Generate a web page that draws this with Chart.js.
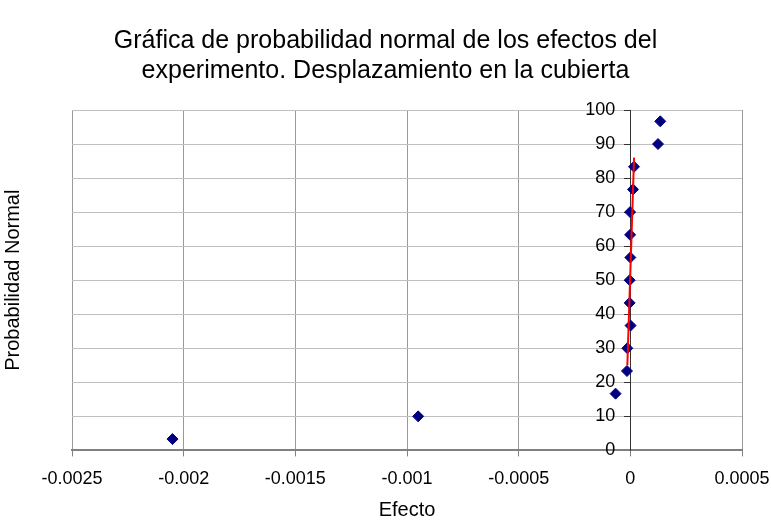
<!DOCTYPE html>
<html lang="es">
<head>
	<meta charset="UTF-8">
	<title>Probabilidad normal</title>
	<script src="https://cdn.jsdelivr.net/npm/chart.js@4/dist/chart.umd.min.js"></script>
	<style>
		body { margin: 0; background: #fff; }
	</style>
</head>
<body>

	<canvas id="normalChart" width="771" height="520"></canvas>

	<script>
	// efectos estimados (eje x) y probabilidad normal acumulada (eje y)
	var efectos = [-0.00205, -0.00095, -0.000066, -0.000015, -0.0000134, 0.000001, -0.000003, -0.000003, 0.0, -0.000001, -0.000001, 0.000012, 0.0000165, 0.000124, 0.000134];
	var probabilidad = [3.33, 10, 16.67, 23.33, 30, 36.67, 43.33, 50, 56.67, 63.33, 70, 76.67, 83.33, 90, 96.67];

	// recta de ajuste (roja)
	var rectaX = [-0.0000134, 0.0000166];
	var rectaY = [25, 86];

	var xTickLabels = ["-0.0025", "-0.002", "-0.0015", "-0.001", "-0.0005", "0", "0.0005"];
	var yTickLabels = ["0", "10", "20", "30", "40", "50", "60", "70", "80", "90", "100"];

	function toPoints(xs, ys){
		var pts = [];
		for (var i = 0; i < xs.length; i++){
			pts.push({x: xs[i], y: ys[i]});
		}
		return pts;
	}

	Chart.defaults.font.family = "'Liberation Sans', Arial, sans-serif";
	Chart.defaults.color = "#000";

	var ctx = document.getElementById('normalChart').getContext('2d');

	var myChart = new Chart(ctx, {
		type: 'scatter',
		data: {
			datasets: [{
				label: 'Recta',
				type: 'line',
				data: toPoints(rectaX, rectaY),
				borderColor: '#ff0000',
				borderWidth: 2,
				pointRadius: 0,
				fill: false,
				order: 0
			},
			{
				label: 'Efectos',
				data: toPoints(efectos, probabilidad),
				pointStyle: 'rectRot',
				pointRadius: 5.5,
				borderWidth: 1,
				backgroundColor: '#000080',
				borderColor: '#000080',
				order: 1
			}]
		},
		options: {
			responsive: false,
			animation: false,
			devicePixelRatio: 1,
			layout: { padding: 0 },
			plugins: {
				legend: { display: false },
				tooltip: { enabled: false },
				title: {
					display: true,
					text: ["Gráfica de probabilidad normal de los efectos del", "experimento. Desplazamiento en la cubierta"],
					font: { size: 25, weight: 'normal' },
					color: '#000',
					padding: { top: 26, bottom: 24 }
				}
			},
			scales: {
				x: {
					type: 'linear',
					position: 'bottom',
					min: -0.0025,
					max: 0.0005,
					afterFit: function(scale){
						// el ultimo rotulo puede llegar casi al borde
						scale.paddingRight = 29;
					},
					ticks: {
						stepSize: 0.0005,
						font: { size: 18 },
						padding: 12,
						callback: function(v, i){ return xTickLabels[i]; }
					},
					grid: { color: '#999', tickColor: '#808080', tickLength: 6 },
					border: { color: '#808080', width: 2 },
					title: {
						display: true,
						text: 'Efecto',
						font: { size: 20, lineHeight: 1 },
						padding: { top: -2, bottom: 0 }
					}
				},
				y: {
					type: 'linear',
					position: { x: 0 },
					min: 0,
					max: 100,
					ticks: {
						stepSize: 10,
						font: { size: 18 },
						// espacios finales para separar la etiqueta del eje
						callback: function(v, i){ return yTickLabels[i] + '   '; }
					},
					grid: { color: '#c0c0c0', tickColor: '#333', tickLength: 6 },
					border: { color: '#333', width: 1 }
				},
				yTitulo: {
					type: 'linear',
					position: 'left',
					ticks: { display: false },
					grid: { display: false },
					border: { display: false },
					title: {
						display: true,
						text: 'Probabilidad Normal',
						font: { size: 20 },
						padding: { top: 1, bottom: 39 }
					}
				}
			}
		}
	});
	</script>

</body>
</html>
